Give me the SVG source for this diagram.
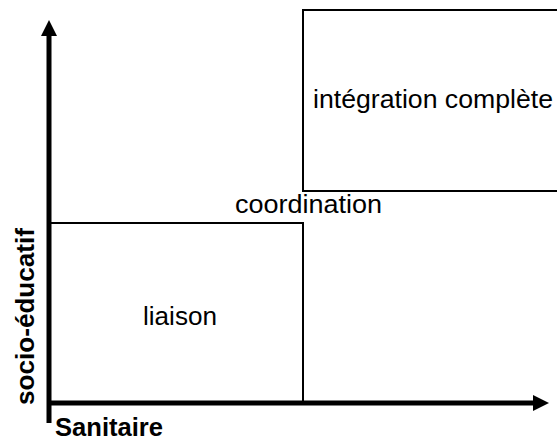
<svg xmlns="http://www.w3.org/2000/svg" width="557" height="441" viewBox="0 0 557 441">
<style>
.box{fill:none;stroke:#000;stroke-width:2}
.axis{stroke:#000;stroke-width:5;fill:none}
.t{font-family:"Liberation Sans",Arial,sans-serif;font-size:25px;fill:#000}
.b{font-family:"Liberation Sans",Arial,sans-serif;font-size:26px;font-weight:bold;fill:#000}
</style>
<defs>
<marker id="ah" markerWidth="16" markerHeight="16" refX="0" refY="8" orient="auto" markerUnits="userSpaceOnUse">
<path d="M0,0 L16,8 L0,16 Z" fill="#000"/>
</marker>
</defs>
<rect width="557" height="441" fill="#fff"/>
<g id="liaison">
<rect class="box" x="49" y="223" width="254" height="180"/>
<text class="t" x="143" y="325" textLength="74" lengthAdjust="spacingAndGlyphs">liaison</text>
</g>
<g id="integration">
<rect class="box" x="303" y="10" width="270" height="181"/>
<text class="t" x="313" y="108" textLength="240" lengthAdjust="spacingAndGlyphs">intégration complète</text>
</g>
<g id="coordination">
<text class="t" x="235" y="213" textLength="147" lengthAdjust="spacingAndGlyphs">coordination</text>
</g>
<g id="connectors">
<line class="axis" x1="49" y1="423" x2="49" y2="36" marker-end="url(#ah)"/>
<line class="axis" x1="47" y1="403" x2="533" y2="403" marker-end="url(#ah)"/>
</g>
<g id="labels">
<text class="b" x="55" y="436" textLength="108" lengthAdjust="spacingAndGlyphs">Sanitaire</text>
<text class="b" transform="translate(34,405) rotate(-90)" textLength="177" lengthAdjust="spacingAndGlyphs">socio-éducatif</text>
</g>
</svg>
